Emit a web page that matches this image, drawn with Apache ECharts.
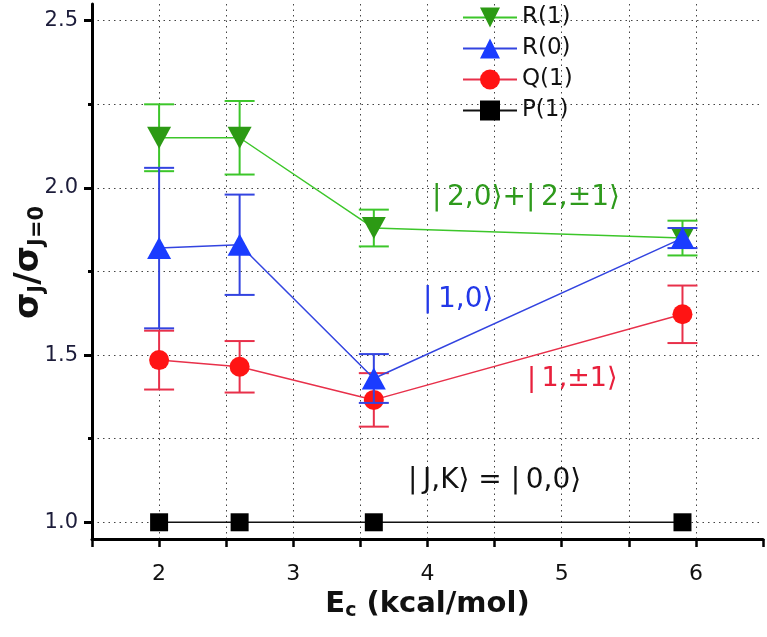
<!DOCTYPE html>
<html>
<head>
<meta charset="utf-8">
<script src="https://cdn.jsdelivr.net/npm/echarts@6/dist/echarts.min.js"></script>
<style>
html, body { margin: 0; padding: 0; background: #fff; }
#chart { width: 767px; height: 637px; }
</style>
</head>
<body>
<div id="chart"></div>
<script>
// collision energy (kcal/mol)
var energies = [2, 2.6, 3.6, 5.9];
// sigma_J / sigma_J=0 and error bars
var r1 = [2.15, 2.15, 1.88, 1.85];
var r1Err = [0.10, 0.11, 0.055, 0.052];
var r0 = [1.82, 1.83, 1.43, 1.85];
var r0Err = [0.24, 0.15, 0.073, 0.03];
var q1 = [1.485, 1.465, 1.366, 1.622];
var q1Err = [0.088, 0.077, 0.08, 0.086];
var p1 = [1, 1, 1, 1];
var yMajor = [1.0, 1.5, 2.0, 2.5];
var yMinor = [1.25, 1.75, 2.25];

var FONT = 'DejaVu Sans';
var dotted = { color: '#444', width: 1, type: [1.5, 4] };

function pts(vals) {
  return energies.map(function (x, i) { return [x, vals[i]]; });
}
function bars(vals, errs) {
  return energies.map(function (x, i) { return [x, vals[i] - errs[i], vals[i] + errs[i]]; });
}
function errorBars(color) {
  return function (params, api) {
    var x = api.value(0);
    var lo = api.coord([x, api.value(1)]);
    var hi = api.coord([x, api.value(2)]);
    var half = 15;
    var st = { stroke: color, lineWidth: 2 };
    return {
      type: 'group',
      children: [
        { type: 'line', shape: { x1: lo[0], y1: lo[1], x2: hi[0], y2: hi[1] }, style: st },
        { type: 'line', shape: { x1: lo[0] - half, y1: lo[1], x2: lo[0] + half, y2: lo[1] }, style: st },
        { type: 'line', shape: { x1: hi[0] - half, y1: hi[1], x2: hi[0] + half, y2: hi[1] }, style: st }
      ]
    };
  };
}
function errSeries(vals, errs, color, z) {
  return {
    type: 'custom',
    renderItem: errorBars(color),
    encode: { x: 0, y: [1, 2] },
    data: bars(vals, errs),
    z: z,
    silent: true
  };
}
function lineSeries(name, vals, lineColor, markColor, symbol, size, rotate, z) {
  return {
    name: name,
    type: 'line',
    data: pts(vals),
    symbol: symbol,
    symbolSize: size,
    symbolRotate: rotate,
    lineStyle: { color: lineColor, width: 1.5 },
    itemStyle: { color: markColor },
    z: z
  };
}

var chart = echarts.init(document.getElementById('chart'));
chart.setOption({
  animation: false,
  textStyle: { fontFamily: FONT },
  grid: { left: 92, right: 4, top: 4, bottom: 98, outerBoundsMode: 'none' },
  legend: {
    data: ['R(1)', 'R(0)', 'Q(1)', 'P(1)'],
    orient: 'vertical',
    left: 462,
    top: 6,
    padding: 0,
    itemWidth: 54,
    itemHeight: 25,
    itemGap: 8,
    textStyle: { fontSize: 23, color: '#111', fontFamily: FONT }
  },
  xAxis: {
    type: 'value',
    min: 1.5,
    max: 6.5,
    interval: 0.5,
    name: '{b|E}{s|c}{b| (kcal/mol)}',
    nameLocation: 'middle',
    nameGap: 46,
    nameTextStyle: {
      rich: {
        b: { fontSize: 29, fontWeight: 'bold', fontFamily: FONT, color: '#111' },
        s: { fontSize: 19, fontWeight: 'bold', fontFamily: FONT, color: '#111', padding: [14, 0, 0, 0] }
      }
    },
    axisLine: { lineStyle: { color: '#000', width: 3 } },
    axisTick: { length: 8, lineStyle: { width: 2.5, color: '#000' } },
    axisLabel: {
      fontSize: 22, color: '#111', margin: 24,
      formatter: function (v) { return v % 1 === 0 ? String(v) : ''; }
    },
    splitLine: { show: true, showMinLine: false, showMaxLine: false, lineStyle: dotted }
  },
  yAxis: [{
    type: 'value',
    min: 0.95,
    max: 2.55,
    name: '{b|σ}{s|J}{b|/σ}{s|J=0}',
    nameLocation: 'middle',
    nameRotate: 90,
    nameGap: 44,
    nameMoveOverlap: false,
    nameTextStyle: {
      padding: [0, 0, 0, 18],
      rich: {
        b: { fontSize: 34, fontWeight: 'bold', fontFamily: FONT, color: '#111' },
        s: { fontSize: 21, fontWeight: 'bold', fontFamily: FONT, color: '#111', padding: [16, 0, 0, 0] }
      }
    },
    axisLine: { lineStyle: { color: '#000', width: 3 } },
    axisTick: { length: 8, customValues: yMajor, lineStyle: { width: 3, color: '#000' } },
    axisLabel: {
      fontSize: 21, color: '#1c1c3a', margin: 14, customValues: yMajor,
      formatter: function (v) { return v.toFixed(1); }
    },
    splitLine: { show: true, lineStyle: dotted }
  }, {
    type: 'value',
    min: 0.95,
    max: 2.55,
    position: 'left',
    axisLine: { show: false },
    axisTick: { length: 4, customValues: yMinor, lineStyle: { width: 3, color: '#000' } },
    axisLabel: { show: false },
    splitLine: { show: true, lineStyle: dotted }
  }],
  graphic: [
    { type: 'text', x: 432, y: 198, z: 100,
      style: { text: '|\u20092,0\u27E9+|\u20092,±1\u27E9', fill: '#2e9a1c', font: '28px "DejaVu Sans"', verticalAlign: 'middle' } },
    { type: 'text', x: 423, y: 300, z: 100,
      style: { text: '|\u20091,0\u27E9', fill: '#2238e8', font: '28px "DejaVu Sans"', verticalAlign: 'middle' } },
    { type: 'text', x: 527, y: 379, z: 100,
      style: { text: '|\u20091,±1\u27E9', fill: '#e8203c', font: '27px "DejaVu Sans"', verticalAlign: 'middle' } },
    { type: 'text', x: 408, y: 481, z: 100,
      style: { text: '|\u2009J,K\u27E9 = |\u20090,0\u27E9', fill: '#111', font: '28px "DejaVu Sans"', verticalAlign: 'middle' } }
  ],
  series: [
    lineSeries('P(1)', p1, '#111', '#000', 'rect', 18, 0, 2),
    errSeries(r1, r1Err, '#3cc62a', 3),
    lineSeries('R(1)', r1, '#3cc62a', '#2c9a14', 'triangle', [24, 22], 180, 3),
    errSeries(q1, q1Err, '#e8304a', 4),
    lineSeries('Q(1)', q1, '#e8304a', '#ff1414', 'circle', 20, 0, 4),
    errSeries(r0, r0Err, '#3344e0', 5),
    lineSeries('R(0)', r0, '#3344e0', '#1a3cff', 'triangle', [24, 22], 0, 5)
  ]
});
</script>
</body>
</html>
